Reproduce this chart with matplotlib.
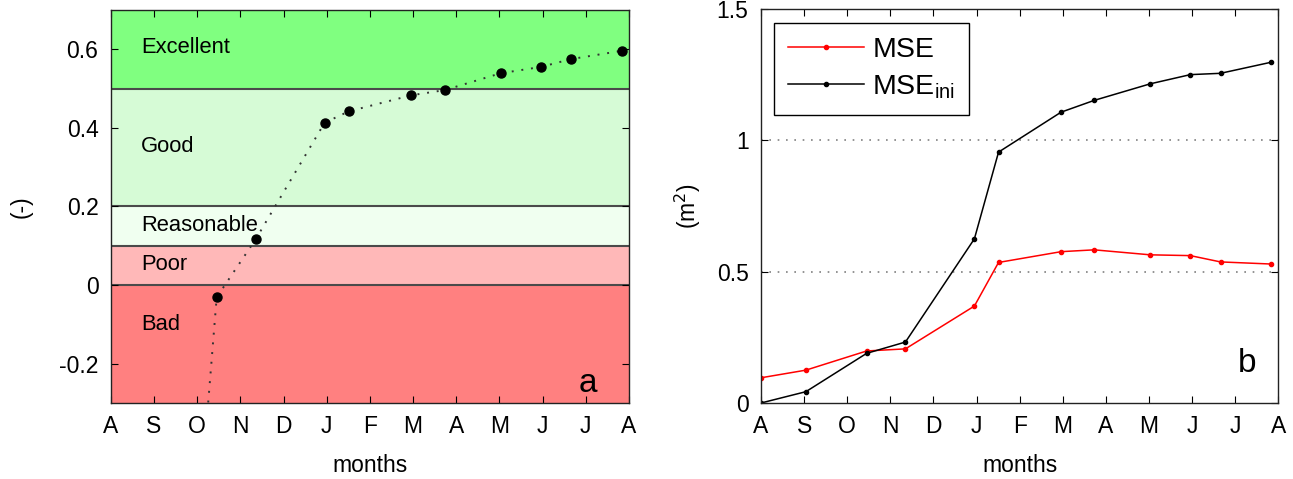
import matplotlib
matplotlib.use('Agg')
import matplotlib.pyplot as plt

plt.rcParams['font.family'] = ['Liberation Sans', 'DejaVu Sans']

# month labels, August to August
months = ['A', 'S', 'O', 'N', 'D', 'J', 'F', 'M', 'A', 'M', 'J', 'J', 'A']

# time of each evaluation (months since start)
t = [0.0, 1.04, 2.45, 3.35, 4.95, 5.51, 6.96, 7.73, 9.03, 9.96, 10.66, 11.83]

# skill score (first point undefined, second one far below the plot)
skill_t = t[1:]
skill = [-1.95, -0.031, 0.116, 0.413, 0.442, 0.483, 0.496, 0.539, 0.555, 0.575, 0.596]

mse = [0.096, 0.125, 0.198, 0.206, 0.369, 0.535, 0.576, 0.583, 0.564, 0.561, 0.537, 0.529]
mse_ini = [0.0, 0.043, 0.189, 0.232, 0.625, 0.955, 1.107, 1.152, 1.215, 1.25, 1.255, 1.297]

# skill classes
band_names = ['Bad', 'Poor', 'Reasonable', 'Good', 'Excellent']
band_lo = [-0.3, 0.0, 0.1, 0.2, 0.5]
band_hi = [0.0, 0.1, 0.2, 0.5, 0.7]
band_text_y = [-0.1, 0.053, 0.151, 0.353, 0.604]
band_colors = ['#ff8080', '#ffb8b8', '#f0fff0', '#d6fbd6', '#80ff80']

fig = plt.figure(figsize=(12.93, 4.79), dpi=100)
ax1 = fig.add_axes([0.0858, 0.1587, 0.4006, 0.8205])
ax2 = fig.add_axes([0.5886, 0.1587, 0.4000, 0.8226])

# %% panel a
for lo, hi, c in zip(band_lo, band_hi, band_colors):
    ax1.axhspan(lo, hi, facecolor=c, edgecolor='none', zorder=0)
for y in band_lo[1:]:
    ax1.axhline(y, color='#4a4a4a', lw=1.5, zorder=1)
for name, y in zip(band_names, band_text_y):
    ax1.text(0.7, y, name, fontsize=15.8, va='center', ha='left', zorder=2)

ax1.plot(skill_t, skill, color='#333333', ls=(0, (1, 4)), lw=1.4, zorder=3)
ax1.plot(skill_t, skill, 'ko', ms=6.5, lw=0, zorder=4)

ax1.set_xlim(0, 12)
ax1.set_ylim(-0.3, 0.7)
ax1.set_yticks([-0.2, 0, 0.2, 0.4, 0.6])
ax1.set_yticklabels(['-0.2', '0', '0.2', '0.4', '0.6'])
ax1.set_ylabel('(-)', fontsize=16.5, labelpad=19)
ax1.text(0.92, 0.028, 'a', transform=ax1.transAxes, fontsize=24,
         ha='center', va='baseline')

# %% panel b
ax2.plot(t, mse, '.-', color='red', lw=1.1, ms=6, label='MSE')
ax2.plot(t, mse_ini, '.-', color='black', lw=1.1, ms=6,
         label='$\\mathregular{MSE_{ini}}$')
for y in [0.5, 1.0]:
    ax2.axhline(y, color='#808080', ls=(0, (1, 4)), lw=1.2, zorder=0)

ax2.set_xlim(0, 12)
ax2.set_ylim(0, 1.5)
ax2.set_yticks([0, 0.5, 1, 1.5])
ax2.set_yticklabels(['0', '0.5', '1', '1.5'])
ax2.set_ylabel('(m$^2$)', fontsize=16.5, labelpad=10)
ax2.text(0.939, 0.078, 'b', transform=ax2.transAxes, fontsize=24,
         ha='center', va='baseline')

leg = ax2.legend(loc='upper left', bbox_to_anchor=(0.025, 0.964), borderaxespad=0,
                 fontsize=20.5, numpoints=1, handlelength=2.65, handletextpad=0.3,
                 fancybox=False, framealpha=1, edgecolor='black',
                 borderpad=0.5, labelspacing=0.35)
leg.get_frame().set_linewidth(1.0)

for ax in (ax1, ax2):
    ax.set_xticks(range(13))
    ax.set_xticklabels(months)
    ax.set_xlabel('months', fontsize=16.5, labelpad=11)
    ax.tick_params(direction='in', top=True, right=True, labelsize=16.5,
                   length=5, width=0.8, pad=9)
    for s in ax.spines.values():
        s.set_linewidth(1.0)
        s.set_color('#222222')

fig.savefig('out.png', dpi=100)
